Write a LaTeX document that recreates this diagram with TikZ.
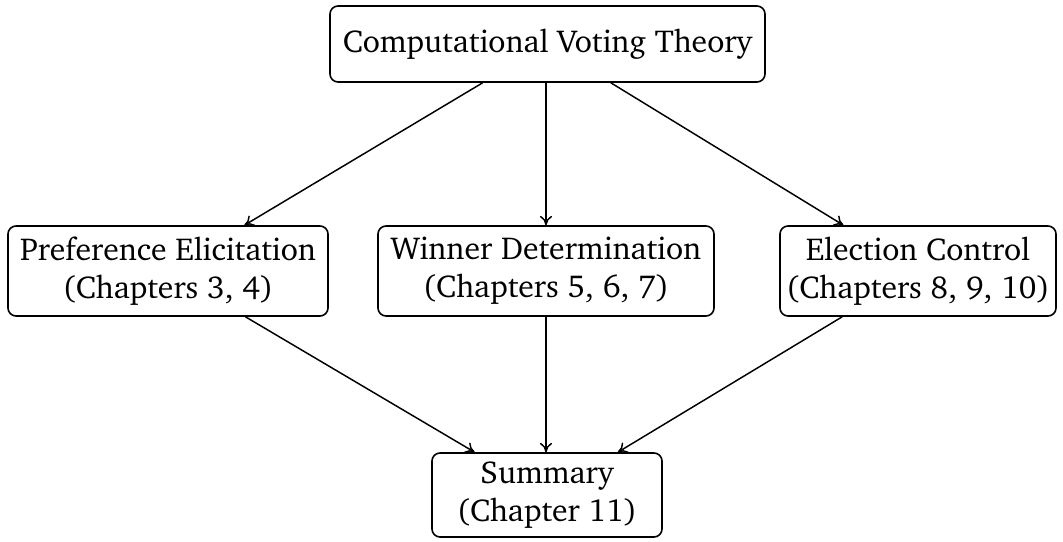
\documentclass[tikz,border=0pt]{standalone}
\usepackage[T1]{fontenc}
\usepackage{charter}
\usetikzlibrary{arrows.meta}
\tikzset{
  box/.style={draw, line width=1.2pt, rounded corners=6pt, align=center, inner sep=0pt,
    font=\fontsize{23.8}{28.5}\selectfont},
  conn/.style={-{To[length=7pt,width=9pt]}, line width=1.1pt}
}
\begin{document}
\begin{tikzpicture}[x=0.75pt,y=-0.75pt]
\useasboundingbox (0,0) rectangle (1063,542);
\node[box, minimum width=326.25pt, minimum height=57pt] (top) at (547.5,44) {Computational Voting Theory};
\node[box, minimum width=240pt, minimum height=67.5pt] (pe) at (168,271) {Preference Elicitation\\(Chapters 3, 4)};
\node[box, minimum width=252pt, minimum height=67.5pt] (wd) at (546,271) {Winner Determination\\(Chapters 5, 6, 7)};
\node[box, minimum width=207pt, minimum height=67.5pt] (ec) at (918,271) {Election Control\\(Chapters 8, 9, 10)};
\node[box, minimum width=172.5pt, minimum height=63pt] (sum) at (547,495) {Summary\\(Chapter 11)};
\draw[conn] (top) -- (pe);
\draw[conn] (top.south -| wd.north) -- (wd);
\draw[conn] (top) -- (ec);
\draw[conn] (pe) -- (sum);
\draw[conn] (wd) -- (sum.north -| wd.south);
\draw[conn] (ec) -- (sum);
\end{tikzpicture}
\end{document}
